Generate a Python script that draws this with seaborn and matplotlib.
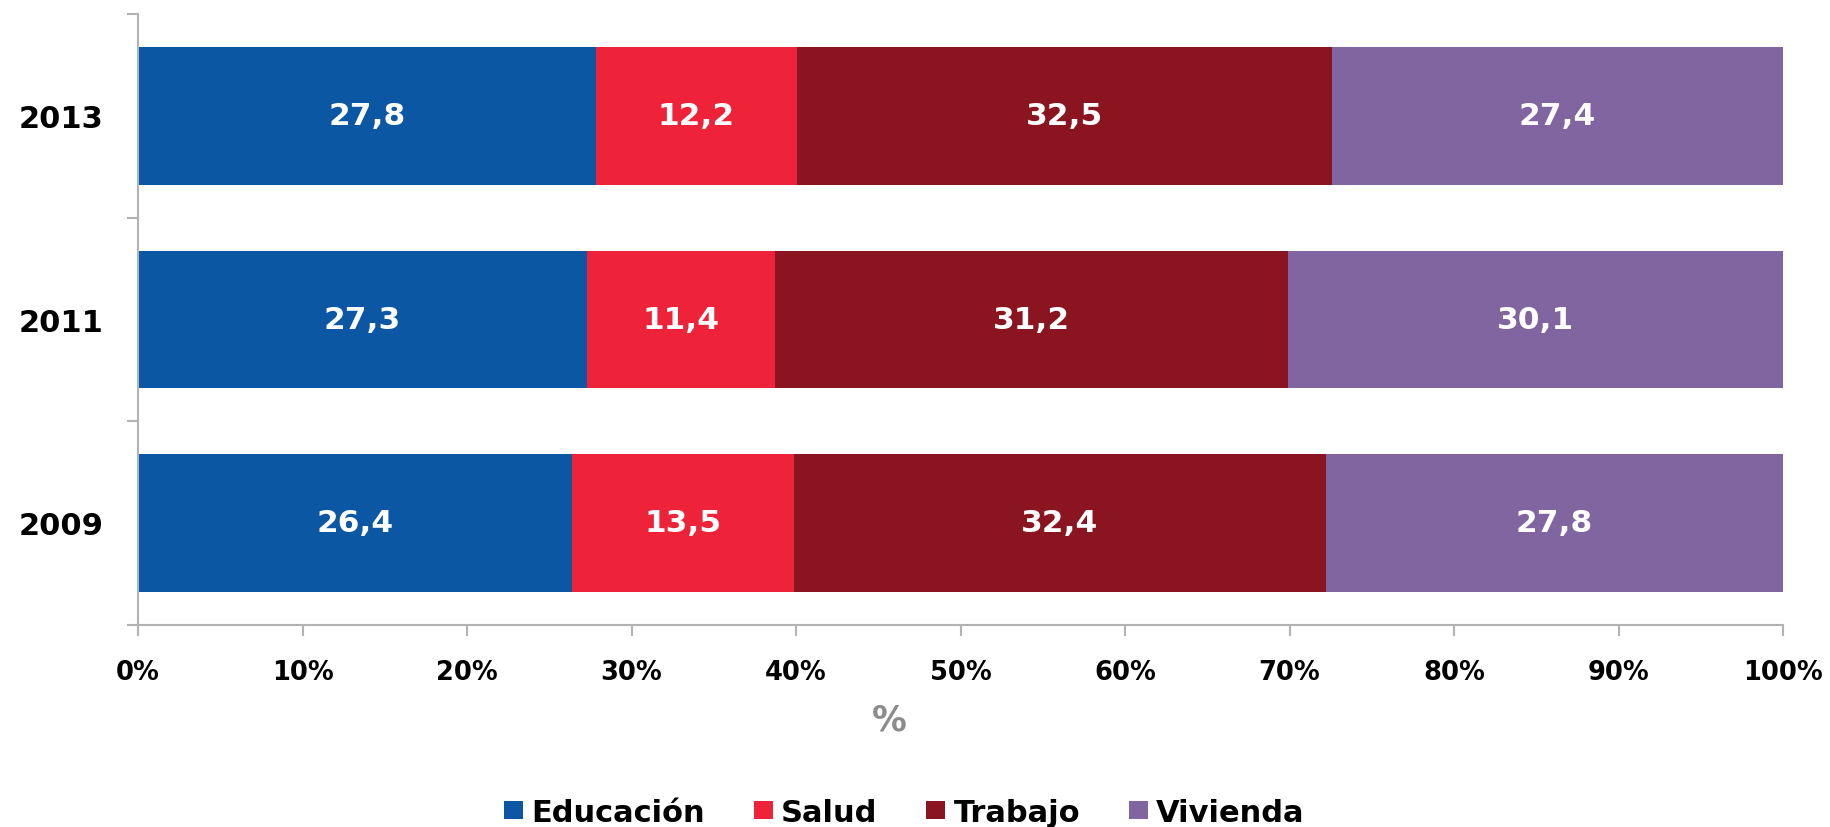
import numpy as np
import pandas as pd
import matplotlib
matplotlib.use('Agg')
import matplotlib.pyplot as plt
import seaborn as sns

# datos (% por año)
years = ['2013', '2011', '2009']
categorias = ['Educación', 'Salud', 'Trabajo', 'Vivienda']
educacion = [27.8, 27.3, 26.4]
salud = [12.2, 11.4, 13.5]
trabajo = [32.5, 31.2, 32.4]
vivienda = [27.4, 30.1, 27.8]
colores = ['#0b57a3', '#ee2339', '#8a1521', '#8165a0']
x_ticks = [0, 10, 20, 30, 40, 50, 60, 70, 80, 90, 100]

sns.set_style('white')
plt.rcParams['font.family'] = ['DejaVu Sans']
plt.rcParams['font.weight'] = 'bold'
plt.rcParams['text.color'] = 'black'
plt.rcParams['xtick.color'] = 'black'
plt.rcParams['ytick.color'] = 'black'

df = pd.DataFrame({'year': years, 'Educación': educacion, 'Salud': salud,
                   'Trabajo': trabajo, 'Vivienda': vivienda})
vals = df[categorias]
pct = vals.div(vals.sum(axis=1), axis=0) * 100
cum = pct.cumsum(axis=1)

gris = '#b3b3b3'
fig = plt.figure(figsize=(18.31, 8.28), dpi=100)
ax = fig.add_axes([0.0754, 0.2443, 0.8984, 0.7376])

# barras apiladas: se dibuja el acumulado desde el último al primero
for cat, col in reversed(list(zip(categorias, colores))):
    sns.barplot(x=cum[cat], y=df['year'], order=years, color=col, width=0.676,
                orient='h', ax=ax, saturation=1, label=cat, linewidth=0)

for i in range(len(years)):
    for cat in categorias:
        centro = cum.loc[i, cat] - pct.loc[i, cat] / 2
        texto = f"{vals.loc[i, cat]:.1f}".replace('.', ',')
        ax.text(centro, i, texto, ha='center', va='center', color='white',
                fontsize=22.5, fontweight='bold')

ax.set_xlim(0, 100)
ax.set_ylim(2.5, -0.5)
ax.set_xticks(x_ticks)
ax.set_xticklabels([f'{t}%' for t in x_ticks], fontsize=18.5, fontweight='bold')
ax.set_yticks(range(len(years)))
ax.set_yticklabels(years, fontsize=22, fontweight='bold')
ax.set_yticks([-0.5, 0.5, 1.5, 2.5], minor=True)
ax.tick_params(axis='y', which='major', left=True, length=0, pad=25)
ax.tick_params(axis='y', which='minor', left=True, length=8, width=1.5, color=gris)
ax.tick_params(axis='x', which='major', bottom=True, length=8, width=1.5,
               color=gris, labelcolor='black', pad=17)
ax.set_ylabel('')

for s in ['top', 'right']:
    ax.spines[s].set_visible(False)
for s in ['left', 'bottom']:
    ax.spines[s].set_color(gris)
    ax.spines[s].set_linewidth(1.5)

ax.set_xlabel('%', fontsize=25, color='#8c8c8c', fontweight='bold')
ax.xaxis.set_label_coords(0.4565, -0.128)

handles, labels = ax.get_legend_handles_labels()
orden = [labels.index(c) for c in categorias]
ax.legend([handles[k] for k in orden], categorias, loc='center',
          bbox_to_anchor=(0.494, 0.018), bbox_transform=fig.transFigure,
          ncol=4, frameon=False, fontsize=22, handlelength=0.62,
          handleheight=0.55, handletextpad=0.27, columnspacing=1.6,
          borderaxespad=0, labelcolor='black')

fig.savefig('out.png', dpi=100)
